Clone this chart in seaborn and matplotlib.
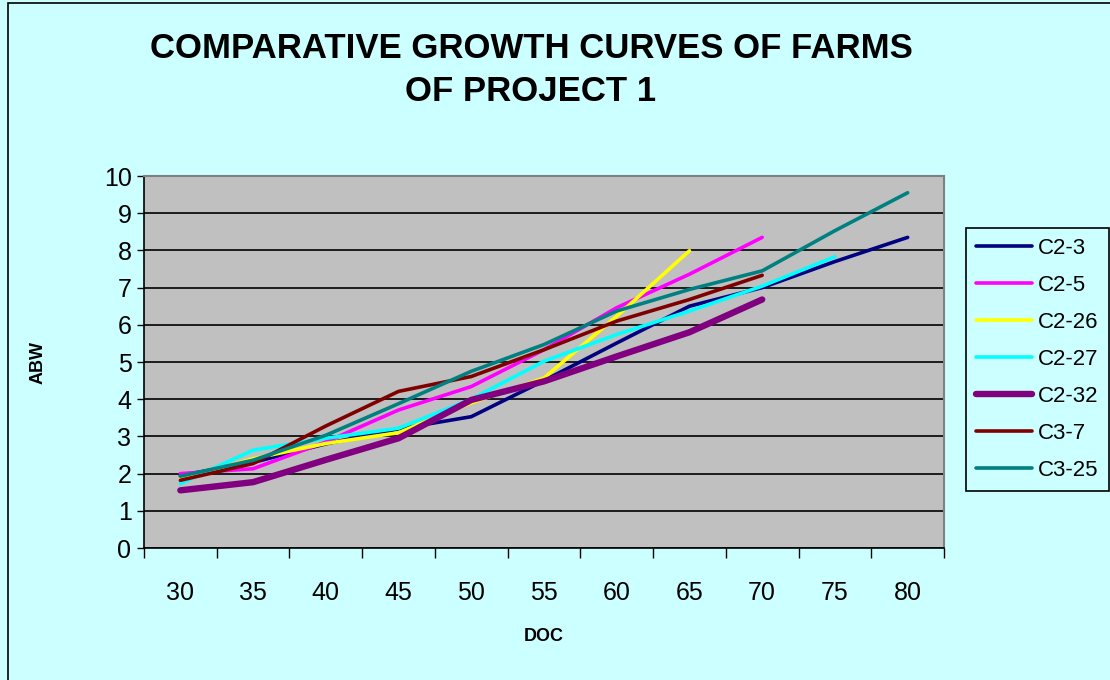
import matplotlib
matplotlib.use("Agg")
import matplotlib.pyplot as plt
import seaborn as sns
import pandas as pd
import numpy as np
from matplotlib.patches import Rectangle

# ---- data ----
doc = [30, 35, 40, 45, 50, 55, 60, 65, 70, 75, 80]
series_names = ["C2-3", "C2-5", "C2-26", "C2-27", "C2-32", "C3-7", "C3-25"]
c2_3 = [1.95, 2.30, 2.80, 3.20, 3.53, 4.50, 5.51, 6.50, 7.00, 7.70, 8.35]
c2_5 = [2.00, 2.13, 2.85, 3.71, 4.34, 5.33, 6.46, 7.36, 8.35]
c2_26 = [1.85, 2.40, 2.81, 3.10, 3.90, 4.57, 6.23, 7.99]
c2_27 = [1.73, 2.63, 2.95, 3.22, 4.00, 5.02, 5.74, 6.37, 7.04, 7.83]
c2_32 = [1.55, 1.77, 2.37, 2.95, 3.98, 4.48, 5.15, 5.80, 6.68]
c3_7 = [1.82, 2.27, 3.28, 4.21, 4.61, 5.33, 6.10, 6.68, 7.33]
c3_25 = [1.93, 2.36, 3.03, 3.88, 4.75, 5.47, 6.37, 6.95, 7.45, 8.53, 9.55]
y_ticks = list(range(0, 11))

values = [c2_3, c2_5, c2_26, c2_27, c2_32, c3_7, c3_25]
colors = ["#000080", "#FF00FF", "#FFFF00", "#00FFFF", "#800080", "#800000", "#008080"]
widths = [2.6, 2.6, 2.6, 2.6, 4.6, 2.6, 2.6]

rows = []
for name, vals in zip(series_names, values):
    for d, v in zip(doc, vals):
        rows.append({"DOC": d, "ABW": v, "Farm": name})
df = pd.DataFrame(rows)

sns.set_theme(style="white")
plt.rcParams["font.family"] = ["Liberation Sans", "DejaVu Sans"]
plt.rcParams["text.color"] = "black"
plt.rcParams["axes.labelcolor"] = "black"

bg = "#CCFFFF"
fig = plt.figure(figsize=(11.1, 6.8), dpi=100, facecolor=bg)
ax = fig.add_axes([144 / 1110, 1 - 548 / 680, 800 / 1110, 372 / 680])
ax.set_facecolor("#C0C0C0")

for name, col, lw in zip(series_names, colors, widths):
    sns.lineplot(data=df[df["Farm"] == name], x="DOC", y="ABW", color=col,
                 linewidth=lw, label=name, ax=ax, sort=False,
                 solid_capstyle="round", solid_joinstyle="round")

step = doc[1] - doc[0]
ax.set_xlim(doc[0] - step / 2, doc[-1] + step / 2)
ax.set_ylim(0, 10)
ax.set_yticks(y_ticks)
ax.set_xticks(doc)
ax.set_xticks([d - step / 2 for d in doc] + [doc[-1] + step / 2], minor=True)
ax.tick_params(axis="x", which="major", length=0, pad=24, labelsize=18, colors="black")
ax.tick_params(axis="x", which="minor", length=7, width=1, direction="out", color="black", bottom=True)
ax.tick_params(axis="y", which="major", length=5, width=1, direction="out", left=True,
               labelsize=18, pad=4, colors="black")
ax.grid(axis="y", color="black", linewidth=1.2)
ax.grid(axis="x", visible=False)
ax.set_axisbelow(True)

for s in ["left", "bottom"]:
    ax.spines[s].set_color("black")
    ax.spines[s].set_linewidth(1.2)
for s in ["top", "right"]:
    ax.spines[s].set_color("#808080")
    ax.spines[s].set_linewidth(1.5)

ax.set_xlabel("DOC", fontsize=13, fontweight="bold", labelpad=16)
ax.set_ylabel("ABW", fontsize=13, fontweight="bold", labelpad=41)

fig.text(531 / 1110, 1 - 70 / 680, "COMPARATIVE GROWTH CURVES OF FARMS\nOF PROJECT 1",
         ha="center", va="center", fontsize=25, fontweight="bold", linespacing=1.42)

leg = ax.legend(loc="upper left", bbox_to_anchor=(966 / 1110, 1 - 228 / 680),
                bbox_transform=fig.transFigure, frameon=True, fancybox=False,
                facecolor=bg, edgecolor="black", framealpha=1, fontsize=16,
                handlelength=2.5, labelspacing=0.72, borderpad=0.45, handletextpad=0.3,
                borderaxespad=0)
leg.get_frame().set_linewidth(1.2)

fig.patches.append(Rectangle((8 / 1110, -0.1), 1.2, 1 - 3 / 680 + 0.1, transform=fig.transFigure,
                             fill=False, edgecolor="black", linewidth=1.2))

fig.savefig("out.png", dpi=100, facecolor=bg)
